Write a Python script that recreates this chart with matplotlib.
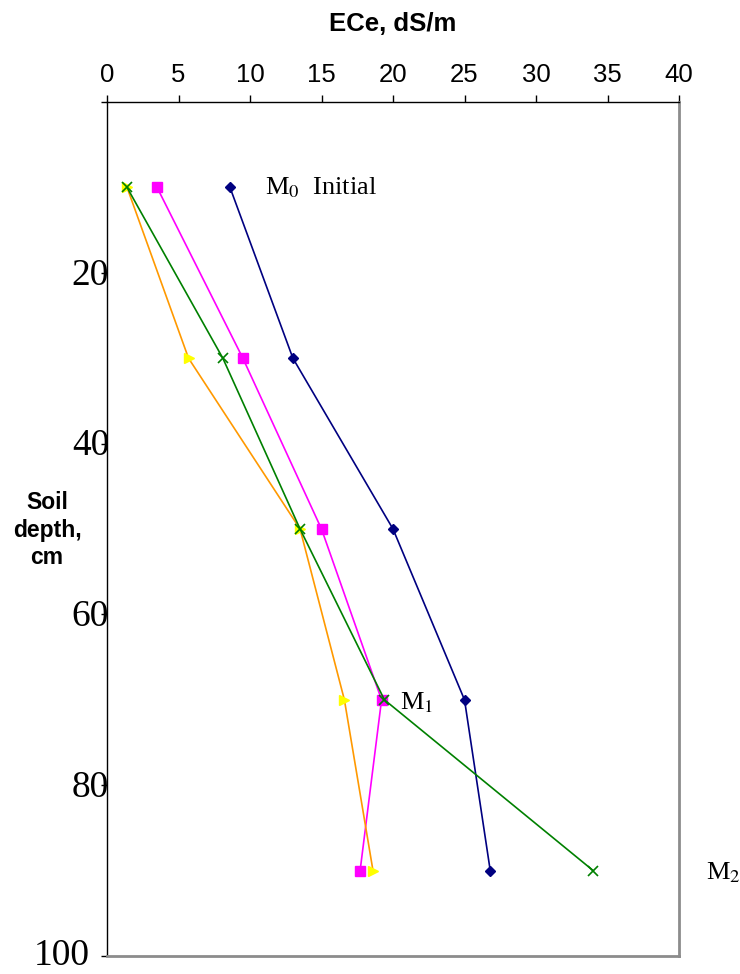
import matplotlib
matplotlib.use("Agg")
import matplotlib.pyplot as plt

plt.rcParams['mathtext.fontset'] = 'stix'

depth = [10, 30, 50, 70, 90]
ece_initial = [8.6, 13.0, 20.0, 25.0, 26.8]
ece_m1 = [3.5, 9.5, 15.0, 19.2, 17.7]
ece_m2 = [1.4, 8.1, 13.5, 19.4, 34.0]
ece_m3 = [1.4, 5.7, 13.5, 16.6, 18.6]

x_ticks = [0, 5, 10, 15, 20, 25, 30, 35, 40]
y_ticks = [20, 40, 60, 80, 100]

fig = plt.figure(figsize=(7.4, 9.74), dpi=100)
ax = fig.add_axes([107/740, 1-956/974, (679-107)/740, (956-102)/974])

ax.plot(ece_initial, depth, color='#000080', marker='D', markersize=5, lw=1.2, zorder=3)
ax.plot(ece_m1, depth, color='#ff00ff', marker='s', markersize=6.5, lw=1.2, zorder=3)
ax.plot(ece_m3, depth, color='#ff9900', marker='>', markersize=7, lw=1.2,
        markerfacecolor='#ffff00', markeredgecolor='#ffff00', zorder=3)
ax.plot(ece_m2, depth, color='#008000', marker='x', markersize=6.5, mew=1.2, lw=1.2, zorder=4)

ax.set_xlim(0, 40)
ax.set_ylim(100, 0)
ax.xaxis.tick_top()
ax.set_xticks(x_ticks)
ax.set_xticklabels([str(v) for v in x_ticks], fontsize=18.5, family='Liberation Sans')
ax.tick_params(axis='x', direction='out', length=5, width=1, pad=6, colors='black')

ax.set_yticks([0] + y_ticks)
ax.set_yticklabels([])
ax.tick_params(axis='y', direction='out', length=4, width=1, left=True, right=False)

for v in y_ticks:
    if v == 100:
        ax.text(-1.2, v, str(v), ha='right', va='center', fontsize=27,
                family='Liberation Serif', clip_on=False)
    else:
        ax.text(0.15, v + 0.3, str(v), ha='right', va='center', fontsize=27,
                family='Liberation Serif', clip_on=False)

for s in ['left', 'top']:
    ax.spines[s].set_color('black')
    ax.spines[s].set_linewidth(1.0)
for s in ['right', 'bottom']:
    ax.spines[s].set_color('#8c8c8c')
    ax.spines[s].set_linewidth(2.0)

fig.text(393/740, 1-24/974, 'ECe, dS/m', ha='center', va='center', fontsize=18.5,
         fontweight='bold', family='Liberation Sans')
fig.text(47/740, 1-530/974, 'Soil\ndepth,\ncm', ha='center', va='center', fontsize=16.5,
         fontweight='bold', family='Liberation Sans', linespacing=1.25)

ax.text(11.05, 10, r'M$_0$  Initial', ha='left', va='center', fontsize=19,
        family='Liberation Serif', clip_on=False)
ax.text(20.5, 70.3, r'M$_1$', ha='left', va='center', fontsize=19,
        family='Liberation Serif', clip_on=False)
ax.text(41.9, 90.3, r'M$_2$', ha='left', va='center', fontsize=19,
        family='Liberation Serif', clip_on=False)

fig.savefig('out.png', dpi=100)
